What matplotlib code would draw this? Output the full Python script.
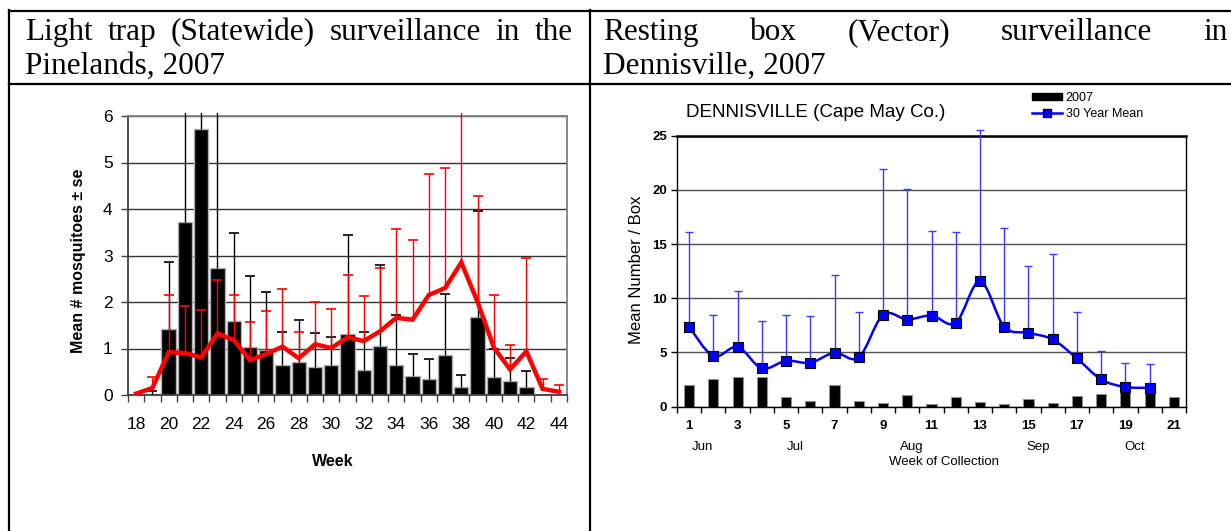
import numpy as np
import matplotlib
matplotlib.use("Agg")
import matplotlib.pyplot as plt
from matplotlib.lines import Line2D
from matplotlib.patches import Patch, PathPatch, Rectangle
from matplotlib.path import Path
from matplotlib.transforms import blended_transform_factory

plt.rcParams['font.family'] = ['Liberation Sans', 'DejaVu Sans']

# ---- left chart: light trap, Pinelands 2007 ----
lt_weeks = list(range(18, 45))
lt_2007 = [0, 0.02, 1.41, 3.72, 5.73, 2.74, 1.59, 1.04, 0.96, 0.65, 0.70, 0.61, 0.64,
           1.31, 0.53, 1.05, 0.64, 0.40, 0.35, 0.87, 0.18, 1.68, 0.38, 0.30, 0.18, 0, 0]
lt_2007_se = [np.nan, 0.07, 1.46, 2.6, 0.6, 3.6, 1.89, 1.52, 1.25, 0.70, 0.91, 0.72, 0.61,
              2.13, 0.83, 1.74, 1.08, 0.48, 0.42, 1.30, 0.24, 2.27, 0.62, 0.49, 0.34, np.nan, np.nan]
lt_mean = [0.03, 0.15, 0.92, 0.90, 0.81, 1.32, 1.18, 0.75, 0.88, 1.04, 0.79, 1.09, 1.01,
           1.24, 1.16, 1.37, 1.66, 1.62, 2.15, 2.30, 2.85, 2.00, 1.02, 0.55, 0.94, 0.13, 0.07]
lt_mean_se = [np.nan, 0.24, 1.24, 1.02, 1.02, 1.15, 0.98, 0.83, 0.93, 1.23, 0.56, 0.91, 0.85,
              1.33, 0.97, 1.37, 1.92, 1.72, 2.60, 2.58, 3.4, 2.28, 1.13, 0.52, 2.01, 0.22, 0.14]

# ---- right chart: resting box, Dennisville 2007 ----
rb_weeks = list(range(1, 22))
rb_2007 = [1.98, 2.50, 2.69, 2.69, 0.88, 0.48, 1.98, 0.48, 0.36, 1.06, 0.23, 0.85, 0.45,
           0.23, 0.66, 0.36, 0.94, 1.18, 1.52, 1.37, 0.88]
rb_mean30 = [7.36, 4.65, 5.50, 3.52, 4.22, 4.04, 4.96, 4.53, 8.46, 8.03, 8.40, 7.72, 11.57,
             7.36, 6.80, 6.19, 4.44, 2.50, 1.80, 1.73, np.nan]
rb_mean30_se = [8.74, 3.81, 5.17, 4.39, 4.24, 4.33, 7.22, 4.21, 13.44, 12.02, 7.80, 8.38, 13.93,
                9.09, 6.18, 7.89, 4.33, 2.58, 2.24, 2.19, np.nan]
months = ['Jun', 'Jul', 'Aug', 'Sep', 'Oct']
month_pos = [1.56, 5.4, 10.18, 15.39, 19.4]

header_left = ["Light trap (Statewide) surveillance in the", "Pinelands, 2007"]
header_right = ["Resting box (Vector) surveillance in", "Dennisville, 2007"]

W, H = 1231, 531
fig = plt.figure(figsize=(W / 100, H / 100), dpi=100)
HEAD_FS = 22.5


def justified(words, x0, x1, y):
    r = fig.canvas.get_renderer()
    arts = [fig.text(0, 1 - y / H, w, family='Liberation Serif', fontsize=HEAD_FS, va='baseline')
            for w in words]
    widths = [a.get_window_extent(r).width for a in arts]
    gap = (x1 - x0 - sum(widths)) / (len(words) - 1)
    x = x0
    for a, w in zip(arts, widths):
        a.set_x(x / W)
        x += w + gap


def plain(s, x0, y):
    fig.text(x0 / W, 1 - y / H, s, family='Liberation Serif', fontsize=HEAD_FS, va='baseline')


# table lines
for (xa, ya), (xb, yb) in [((9, 10.5), (1231, 10.5)), ((9, 84), (1231, 84)),
                           ((9, 10), (9, 531)), ((590, 10), (590, 531))]:
    fig.add_artist(Line2D([xa / W, xb / W], [1 - ya / H, 1 - yb / H], color='black', lw=1.6))

justified(header_left[0].split(), 25, 573, 40)
plain(header_left[1], 25, 74)
justified(header_right[0].split(), 603, 1228, 40)
plain(header_right[1], 603, 74)


# ---- left chart ----
ax1 = fig.add_axes([128 / W, 1 - 395 / H, 439 / W, 279 / H])
x1 = np.array(lt_weeks)
b1 = np.array(lt_2007)
m1 = np.array(lt_mean)
# error bars may poke a little above the plot area, as in the source chart
clip = Rectangle((0, 0), 1, 1.012, transform=ax1.transAxes, visible=False)
ax1.add_patch(clip)
ax1.bar(x1, b1, width=0.88, color='black', edgecolor='#b0b0b0', lw=1, zorder=2)
arts = [ax1.vlines(x1, b1, b1 + np.array(lt_2007_se), color='black', lw=1, zorder=3)]
arts += ax1.plot(x1, b1 + np.array(lt_2007_se), ls='none', marker='_', ms=7, mew=1.2,
                 color='black', zorder=3)
arts += [ax1.vlines(x1, m1, m1 + np.array(lt_mean_se), color='red', lw=1, zorder=4)]
arts += ax1.plot(x1, m1 + np.array(lt_mean_se), ls='none', marker='_', ms=7, mew=1.2,
                 color='red', zorder=4)
for a in arts:
    a.set_clip_path(clip)
ax1.plot(x1, m1, color='red', lw=3.2, zorder=5, solid_joinstyle='miter')
ax1.set_xlim(17.5, 44.5)
ax1.set_ylim(0, 6)
ax1.set_yticks(range(0, 7))
ax1.grid(axis='y', color='#333333', lw=1, zorder=1)
ax1.set_xticks(lt_weeks[::2])
ax1.set_xticks(np.arange(17.5, 45, 1), minor=True)
ax1.tick_params(axis='x', which='major', length=0, pad=16, labelsize=12.5)
ax1.tick_params(axis='x', which='minor', length=5, width=1, color='#404040')
ax1.tick_params(axis='y', length=5, width=1, pad=6, labelsize=12.5, color='#404040')
for s in ['left', 'bottom']:
    ax1.spines[s].set_color('#404040')
    ax1.spines[s].set_linewidth(1.3)
for s in ['top', 'right']:
    ax1.spines[s].set_color('#808080')
    ax1.spines[s].set_linewidth(1.3)
ax1.set_ylabel('Mean # mosquitoes ± se', fontweight='bold', fontsize=11.5)
ax1.yaxis.set_label_coords(-0.095, 0.48)
ax1.set_xlabel('Week', fontweight='bold', fontsize=11.5)
ax1.xaxis.set_label_coords(0.467, -0.213)


# ---- right chart ----
ax2 = fig.add_axes([677 / W, 1 - 406.5 / H, 509 / W, 270.8 / H])
x2 = np.array(rb_weeks)
m2 = np.array(rb_mean30)
ax2.bar(x2, rb_2007, width=0.42, color='black', edgecolor='#909090', lw=0.8, zorder=2)
ax2.vlines(x2, m2, m2 + np.array(rb_mean30_se), color='#3a3aff', lw=1, zorder=3, clip_on=False)
ax2.plot(x2, m2 + np.array(rb_mean30_se), ls='none', marker='_', ms=6, mew=1, color='#3a3aff',
         zorder=3, clip_on=False)

# smoothed line like the spreadsheet's curve
ok = ~np.isnan(m2)
px_, py_ = x2[ok].astype(float), m2[ok]
verts = [(px_[0], py_[0])]
codes = [Path.MOVETO]
n = len(px_)
for i in range(n - 1):
    p0 = np.array([px_[max(i - 1, 0)], py_[max(i - 1, 0)]])
    p1 = np.array([px_[i], py_[i]])
    p2 = np.array([px_[i + 1], py_[i + 1]])
    p3 = np.array([px_[min(i + 2, n - 1)], py_[min(i + 2, n - 1)]])
    c1 = p1 + (p2 - p0) / 6
    c2 = p2 - (p3 - p1) / 6
    verts += [tuple(c1), tuple(c2), tuple(p2)]
    codes += [Path.CURVE4] * 3
ax2.add_patch(PathPatch(Path(verts, codes), facecolor='none', edgecolor='#0000ff', lw=1.8, zorder=4))
ax2.plot(x2, m2, ls='none', marker='s', ms=7, color='#0000ff', mec='black', mew=0.8, zorder=5)

ax2.set_xlim(0.5, 21.5)
ax2.set_ylim(0, 25)
ax2.set_yticks(range(0, 26, 5))
ax2.grid(axis='y', color='#505050', lw=1, zorder=1)
ax2.set_xticks(rb_weeks[::2])
ax2.set_xticks(np.arange(0.5, 22, 1), minor=True)
ax2.tick_params(axis='x', which='major', length=0, pad=10, labelsize=9.5)
ax2.tick_params(axis='x', which='minor', length=4, width=1)
ax2.tick_params(axis='y', length=4, width=1, pad=3, labelsize=9.5)
for lab in ax2.get_xticklabels() + ax2.get_yticklabels():
    lab.set_fontweight('bold')
for s in ax2.spines.values():
    s.set_color('black')
    s.set_linewidth(1)
ax2.spines['top'].set_linewidth(1.8)
ax2.set_ylabel('Mean Number / Box', fontsize=12)
ax2.yaxis.set_label_coords(-0.064, 0.504)
tr = blended_transform_factory(ax2.transData, ax2.transAxes)
for mname, mx in zip(months, month_pos):
    ax2.text(mx, -0.15, mname, transform=tr, ha='center', va='center', fontsize=9.5)
ax2.text(11.5, -0.206, 'Week of Collection', transform=tr, ha='center', va='center', fontsize=9.5)
ax2.text(0.273, 1.085, 'DENNISVILLE (Cape May Co.)', transform=ax2.transAxes, ha='center',
         va='center', fontsize=13.5)
handles = [Patch(facecolor='black', edgecolor='black'),
           Line2D([], [], color='#0000ff', lw=1.8, marker='s', ms=6, mfc='#0000ff', mec='black')]
fig.legend(handles, ['2007', '30 Year Mean'], loc='upper left',
           bbox_to_anchor=(1032 / W, 1 - 92 / H), frameon=False, fontsize=9,
           handlelength=2.4, handleheight=0.5, handletextpad=0.3, labelspacing=0.35,
           borderpad=0, borderaxespad=0)

fig.savefig('out.png', dpi=100)
